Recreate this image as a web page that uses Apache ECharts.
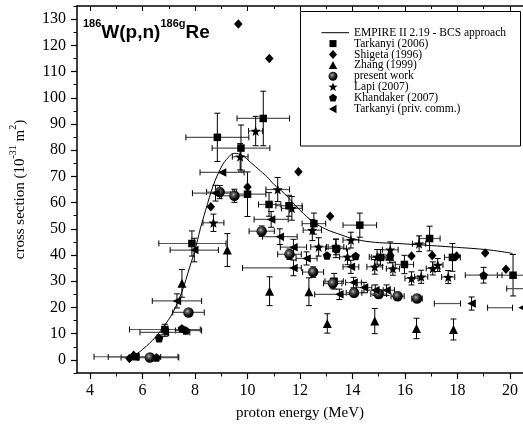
<!DOCTYPE html>
<html><head><meta charset="utf-8">
<script src="https://cdn.jsdelivr.net/npm/echarts@6/dist/echarts.min.js"></script>
<style>html,body{margin:0;padding:0;background:#fff}#c{width:523px;height:432px}</style>
</head><body><div id="c"></div>
<script>
// ---- data ----
const xTicks = [4, 6, 8, 10, 12, 14, 16, 18, 20];
const xMinor = [4, 5, 6, 7, 8, 9, 10, 11, 12, 13, 14, 15, 16, 17, 18, 19, 20];
const yTicks = [0, 10, 20, 30, 40, 50, 60, 70, 80, 90, 100, 110, 120, 130];
const yMinor = [-5, 0, 5, 10, 15, 20, 25, 30, 35, 40, 45, 50, 55, 60, 65, 70, 75, 80, 85, 90, 95, 100, 105, 110, 115, 120, 125, 130, 135];
const seriesNames = ['EMPIRE II 2.19 - BCS approach', 'Tarkanyi (2006)', 'Shigeta (1996)', 'Zhang (1999)', 'present work', 'Lapi (2007)', 'Khandaker (2007)', 'Tarkanyi (priv. comm.)'];

const empireCurve = [[5.57,0.9],[6.0,4.0],[6.5,8.8],[7.0,15.5],[7.25,20],[7.5,26],[7.8,35.5],[8.0,42],[8.2,50],[8.4,57],[8.7,66.7],[9.0,73.5],[9.2,76.5],[9.5,78.8],[9.8,78],[10.1,75.5],[10.5,72],[10.75,69.8],[11.0,67],[11.4,63.5],[12.0,57.1],[12.5,52.7],[13.0,49.8],[13.6,47.6],[14.0,46.3],[14.7,45.0],[15.9,44.3],[17.0,43.6],[17.75,43.1],[19.25,41.9],[20.1,40.6]];

// [energy, cross section, x-error left, x-error right, y-error]
const tarkanyi2006 = [[8.85,84.9,1.2,1.2,9.2],[9.75,80.8,1.1,1.1,8.8],[10.6,92.1,1.0,1.0,10.4],[10.0,63.2,0.65,0.7,8.5],[7.88,44.4,1.26,1.3,4.8],[6.85,11.6,1.35,1.35,2.0],[5.75,1.2,1.6,1.6,0.8],[10.82,59.3,0.4,0.45,4.5],[11.58,58.8,0.5,0.5,4.0],[12.53,52.0,0.45,0.45,4.0],[14.28,51.4,0.64,0.64,4.6],[13.37,42.5,0.4,0.4,3.5],[15.07,39.1,0.35,0.35,3.0],[16.94,46.3,0.4,0.4,4.7],[17.81,39.1,0.3,0.3,5.3],[15.98,36.4,0.35,0.35,3.5],[20.12,32.3,0.6,0.4,7.9],[13.3,30.0,0.35,0.35,3.0]];
const shigeta1996 = [[9.65,128.1,0,0,0],[10.83,115,0,0,0],[11.94,71.8,0,0,0],[8.6,58.4,0,0,0],[10.0,66,0,0,0],[13.15,54.8,0,0,0],[16.25,39.6,0,0,0],[17.04,39.8,0,0,0],[17.97,39.6,0,0,0],[19.06,40.8,0,0,0],[19.85,34.6,0,0,0],[5.5,0.5,0,0,0],[5.66,1.8,0,0,0]];
const zhang1999 = [[7.5,29.2,0,0,5.3],[9.23,41.9,0,0,6.3],[10.84,26.2,0,0,5.5],[12.34,26.0,0,0,5.3],[13.04,13.9,0,0,3.7],[14.85,14.8,0,0,4.8],[16.44,12.0,0,0,3.9],[17.85,11.6,0,0,4.0],[15.42,39.5,0,0,2.5]];
const presentWork = [[6.28,0.9,1.1,1.1,0.5],[7.75,18.1,0.6,0.6,0.8],[8.94,64.0,0.5,0.5,2.5],[9.5,62.6,0.5,0.5,2.5],[10.54,49.1,0.48,0.48,2],[11.6,40.3,0.45,0.45,2],[12.5,33.5,0.4,0.4,2],[13.25,29.2,0.35,0.35,1.8],[14.06,25.6,0.3,0.3,1.5],[15.0,25.1,0.3,0.3,1.5],[15.72,24.3,0.25,0.25,1.5],[16.46,23.4,0.2,0.2,1.5]];
const lapi2007 = [[8.7,52.3,0.4,0.4,3.3],[9.72,77.5,0.3,0.3,5],[10.31,87.3,0.27,0.27,5.6],[11.15,65,0.45,0.45,4.6],[11.69,57.8,0.4,0.4,4.5],[12.47,49.5,0.35,0.35,4],[12.71,43.1,0.3,0.3,3.5],[13.37,43.1,0.3,0.3,3],[13.94,45.7,0.3,0.3,3],[13.81,39.3,0.3,0.3,3],[14.85,35.5,0.3,0.3,2.8],[14.94,39.3,0.3,0.3,2.8],[15.44,42.0,0.3,0.3,3],[15.54,34.8,0.25,0.25,2.5],[16.25,31.1,0.25,0.25,2.5],[16.62,31.7,0.25,0.25,2.5],[17.06,34.9,0.25,0.25,2.5],[17.25,36.2,0.2,0.2,2.5],[17.65,31.6,0.25,0.25,2.5],[16.54,44.3,0.25,0.25,3]];
const khandaker2007 = [[6.63,8.3,0,0,1.2],[7.5,12.0,0,0,0],[7.65,11.2,0.4,0.6,0],[6.53,0.9,0,0,0],[13.03,39.8,0,0,0],[13.4,42.3,0,0,0],[14.12,39.6,0,0,0],[15.44,39.6,0,0,0],[19.0,32.3,0.7,0.7,3.0]];
const tarkanyiPriv = [[9.03,71.5,0.84,0.84,0],[8.78,63.6,0.88,0.8,3],[7.97,41.9,0.92,0.92,4.5],[7.31,22.5,0.94,0.94,2.7],[6.85,10.5,0.95,0.95,1.5],[5.69,1.1,1.0,1.0,0.5],[10.9,53.6,0.65,0.65,3.0],[11.23,47.0,0.66,0.66,3.0],[11.75,43.0,0.5,0.5,3.0],[11.75,35.1,1.94,0.3,3.0],[12.25,38.7,0.4,0.4,2.5],[13.94,35.5,0.3,0.3,2.5],[14.04,29.5,0.3,0.3,2.0],[14.44,27.6,0.3,0.3,2.0],[14.87,26.6,0.3,0.3,2.0],[15.3,26.6,0.3,0.3,2.0],[13.5,25.0,0.94,0.5,2.0],[18.54,21.5,1.42,-0.42,2.5],[20.48,19.9,1.33,-0.38,0],[20.8,27.2,0.92,0.3,0]];

// ---- rendering ----
const SERIF = 'Liberation Serif';
const chart = echarts.init(document.getElementById('c'), null, {renderer: 'canvas'});

function polyPts(cx, cy, r, n, inner, rot) {
  const pts = [];
  const steps = inner ? n * 2 : n;
  for (let i = 0; i < steps; i++) {
    const rr = inner && i % 2 ? r * inner : r;
    const a = -Math.PI / 2 + i * Math.PI * 2 / steps + (rot || 0);
    pts.push([cx + rr * Math.cos(a), cy + rr * Math.sin(a)]);
  }
  return pts;
}
function toPath(pts) {
  return 'path://' + pts.map((p, i) => (i ? 'L' : 'M') + p[0].toFixed(2) + ',' + p[1].toFixed(2)).join(' ') + ' Z';
}
const starPath = toPath(polyPts(0, 0, 10, 5, 0.42));
const pentPath = toPath(polyPts(0, 0, 10, 5, 0));

const sphere = new echarts.graphic.RadialGradient(0.4, 0.38, 0.6, [
  {offset: 0, color: '#b8b8b8'}, {offset: 0.3, color: '#555'}, {offset: 0.7, color: '#111'}, {offset: 1, color: '#000'}]);

function renderErr(params, api) {
  const x = api.value(0), y = api.value(1), dxm = api.value(2), dxp = api.value(3), dy = api.value(4);
  const ch = [];
  const cap = 3;
  if (dxm || dxp) {
    const l = api.coord([x - dxm, y]), r = api.coord([x + dxp, y]);
    ch.push({type: 'line', shape: {x1: l[0], y1: l[1], x2: r[0], y2: r[1]}, style: {stroke: '#555', lineWidth: 1.2}});
    ch.push({type: 'line', shape: {x1: l[0], y1: l[1] - cap, x2: l[0], y2: l[1] + cap}, style: {stroke: '#000', lineWidth: 1}});
    ch.push({type: 'line', shape: {x1: r[0], y1: r[1] - cap, x2: r[0], y2: r[1] + cap}, style: {stroke: '#000', lineWidth: 1}});
  }
  if (dy) {
    const t = api.coord([x, y + dy]), b = api.coord([x, y - dy]);
    ch.push({type: 'line', shape: {x1: t[0], y1: t[1], x2: b[0], y2: b[1]}, style: {stroke: '#000', lineWidth: 1}});
    ch.push({type: 'line', shape: {x1: t[0] - cap, y1: t[1], x2: t[0] + cap, y2: t[1]}, style: {stroke: '#000', lineWidth: 1}});
    ch.push({type: 'line', shape: {x1: b[0] - cap, y1: b[1], x2: b[0] + cap, y2: b[1]}, style: {stroke: '#000', lineWidth: 1}});
  }
  return {type: 'group', children: ch};
}

const groups = [
  {name: seriesNames[1], data: tarkanyi2006, symbol: 'rect', size: 7.5, rotate: 0, color: '#000'},
  {name: seriesNames[2], data: shigeta1996, symbol: 'diamond', size: [8.5, 9.5], rotate: 0, color: '#000'},
  {name: seriesNames[3], data: zhang1999, symbol: 'triangle', size: 9, rotate: 0, color: '#000'},
  {name: seriesNames[4], data: presentWork, symbol: 'circle', size: 10.5, rotate: 0, color: sphere},
  {name: seriesNames[5], data: lapi2007, symbol: starPath, size: 10, rotate: 0, color: '#000'},
  {name: seriesNames[6], data: khandaker2007, symbol: pentPath, size: 8.5, rotate: 0, color: '#000'},
  {name: seriesNames[7], data: tarkanyiPriv, symbol: 'triangle', size: 8.5, rotate: 90, color: '#000'}
];

const series = [];
groups.forEach(g => {
  series.push({type: 'custom', name: g.name + ' err', data: g.data, renderItem: renderErr, clip: true, silent: true, z: 2,
    encode: {x: 0, y: 1}});
  series.push({type: 'scatter', name: g.name, data: g.data, symbol: g.symbol, symbolSize: g.size, symbolRotate: g.rotate,
    itemStyle: {color: g.color, opacity: 1}, clip: true, z: 3, silent: true, encode: {x: 0, y: 1}});
});
series.push({type: 'line', name: seriesNames[0], data: empireCurve, smooth: 0.4, showSymbol: false, symbol: 'none',
  lineStyle: {color: '#000', width: 1}, z: 4, silent: true});

const axisFont = {fontFamily: SERIF, fontSize: 16, color: '#000'};
const X0 = 3.5, X1 = 20.5, Y0 = -5, Y1 = 135;

// legend drawing
const legendChildren = [{type: 'rect', shape: {x: 300.5, y: 11.5, width: 220, height: 134.5},
  style: {fill: '#fff', stroke: '#000', lineWidth: 1}}];
const rowY = [32.7, 43.6, 54.5, 65.4, 76.3, 87.2, 98.1, 109];
const sx = 333;
seriesNames.forEach((nm, i) => {
  const cy = rowY[i];
  legendChildren.push({type: 'text', style: {x: 354, y: cy, text: nm, font: '11.5px "' + SERIF + '"', fill: '#000',
    verticalAlign: 'middle', align: 'left'}});
  let sh;
  if (i === 0) sh = {type: 'line', shape: {x1: 321.5, y1: cy, x2: 349, y2: cy}, style: {stroke: '#000', lineWidth: 1}};
  else if (i === 1) sh = {type: 'rect', shape: {x: sx - 3.5, y: cy - 3.5, width: 7, height: 7}, style: {fill: '#000'}};
  else if (i === 2) sh = {type: 'polygon', shape: {points: [[sx, cy - 4.5], [sx + 4, cy], [sx, cy + 4.5], [sx - 4, cy]]}, style: {fill: '#000'}};
  else if (i === 3) sh = {type: 'polygon', shape: {points: [[sx, cy - 4.5], [sx + 4.2, cy + 3.5], [sx - 4.2, cy + 3.5]]}, style: {fill: '#000'}};
  else if (i === 4) sh = {type: 'circle', shape: {cx: sx, cy: cy, r: 4.5}, style: {fill: sphere}};
  else if (i === 5) sh = {type: 'polygon', shape: {points: polyPts(sx, cy, 4.8, 5, 0.42)}, style: {fill: '#000'}};
  else if (i === 6) sh = {type: 'polygon', shape: {points: polyPts(sx, cy, 4.3, 5, 0)}, style: {fill: '#000'}};
  else sh = {type: 'polygon', shape: {points: [[sx - 4, cy], [sx + 3.5, cy - 4.2], [sx + 3.5, cy + 4.2]]}, style: {fill: '#000'}};
  legendChildren.push(sh);
});

const option = {
  animation: false,
  backgroundColor: '#fff',
  grid: {left: 70, right: 0, top: 6, bottom: 59, containLabel: false},
  xAxis: [
    {type: 'value', min: X0, max: X1, position: 'bottom',
      axisLine: {show: true, onZero: false, lineStyle: {color: '#000', width: 1.5}},
      axisTick: {show: true, customValues: xTicks, length: 6, lineStyle: {color: '#000', width: 1.2}},
      axisLabel: {show: true, customValues: xTicks, margin: 10, ...axisFont},
      splitLine: {show: false},
      name: 'proton energy (MeV)', nameLocation: 'middle', nameGap: 33, nameTextStyle: {...axisFont, fontSize: 15}},
    {type: 'value', min: X0, max: X1, position: 'bottom',
      axisLine: {show: false, onZero: false}, axisTick: {show: true, customValues: xMinor, length: 3.5, lineStyle: {color: '#000', width: 1}},
      axisLabel: {show: false}, splitLine: {show: false}},
    {type: 'value', min: X0, max: X1, position: 'top',
      axisLine: {show: true, onZero: false, lineStyle: {color: '#000', width: 1.5}},
      axisTick: {show: true, inside: true, customValues: xTicks, length: 5, lineStyle: {color: '#000', width: 1}},
      axisLabel: {show: false}, splitLine: {show: false}},
    {type: 'value', min: X0, max: X1, position: 'top',
      axisLine: {show: false, onZero: false}, axisTick: {show: true, inside: true, customValues: xMinor, length: 3, lineStyle: {color: '#000', width: 1}},
      axisLabel: {show: false}, splitLine: {show: false}}
  ],
  yAxis: [
    {type: 'value', min: Y0, max: Y1, position: 'left',
      axisLine: {show: true, onZero: false, lineStyle: {color: '#000', width: 1.5}},
      axisTick: {show: true, customValues: yTicks, length: 6, lineStyle: {color: '#000', width: 1.2}},
      axisLabel: {show: true, customValues: yTicks, margin: 11, ...axisFont},
      splitLine: {show: false},
      name: '{n|cross section (10}{s|-31}{n| m}{s|2}{n|)}', nameLocation: 'middle', nameGap: 49,
      nameTextStyle: {...axisFont, fontSize: 15, rich: {
        n: {fontFamily: SERIF, fontSize: 15, color: '#000', lineHeight: 20, verticalAlign: 'bottom'},
        s: {fontFamily: SERIF, fontSize: 10, color: '#000', lineHeight: 12, verticalAlign: 'top'}}}},
    {type: 'value', min: Y0, max: Y1, position: 'left',
      axisLine: {show: false, onZero: false}, axisTick: {show: true, customValues: yMinor, length: 3.5, lineStyle: {color: '#000', width: 1}},
      axisLabel: {show: false}, splitLine: {show: false}}
  ],
  series: series,
  graphic: [
    {type: 'group', z: 100, children: legendChildren},
    {type: 'text', z: 100, left: 83, top: 18, style: {
      text: '{s|186}{m|W(p,n)}{s|186g}{m|Re}',
      rich: {
        s: {fontFamily: 'Liberation Sans', fontWeight: 'bold', fontSize: 11, lineHeight: 12, verticalAlign: 'top', fill: '#000'},
        m: {fontFamily: 'Liberation Sans', fontWeight: 'bold', fontSize: 19, lineHeight: 24, verticalAlign: 'bottom', fill: '#000'}
      }}}
  ]
};
chart.setOption(option);
</script></body></html>
